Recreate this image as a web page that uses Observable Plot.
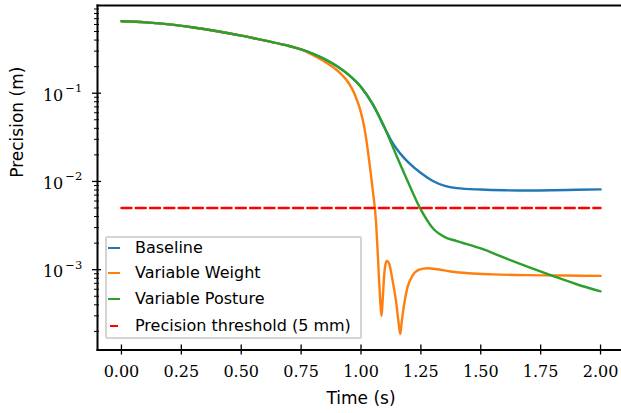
<!DOCTYPE html>
<html><head><meta charset="utf-8">
<script src="https://cdn.jsdelivr.net/npm/d3@7"></script>
<script src="https://cdn.jsdelivr.net/npm/@observablehq/plot@0.6"></script>
<style>
html,body{margin:0;padding:0;background:#fff;}
#wrap{position:relative;width:621px;height:413px;overflow:hidden;}
#legend{position:absolute;left:105px;top:236px;width:253px;height:99px;border:2px solid #d4d4d4;background:rgba(255,255,255,0.8);border-radius:2px;font-family:"DejaVu Sans",sans-serif;font-size:16px;color:#000;}
#legend .row{position:absolute;left:0;height:20px;line-height:20px;white-space:nowrap;}
#legend .sw{position:absolute;left:1px;top:9px;width:12px;height:0;}
#legend .lab{position:absolute;left:28px;top:0;}
</style>
</head><body>
<div id="wrap"></div>
<script>
// ---- data ----
const seriesNames = ["Baseline", "Variable Weight", "Variable Posture", "Precision threshold (5 mm)"];
const seriesColors = ["#1f77b4", "#ff7f0e", "#2ca02c", "#ff0000"];

const baselineT = [0,0.1,0.2,0.3,0.4,0.5,0.6,0.7,0.75,0.8,0.85,0.9,0.95,1.0,1.05,1.1,1.125,1.15,1.175,1.2,1.25,1.3,1.35,1.4,1.5,1.6,1.7,1.8,1.9,2.0];
const baselineV = [0.653,0.634,0.603,0.556,0.504,0.449,0.394,0.343,0.313,0.279,0.2415,0.2018,0.1603,0.1175,0.0741,0.0398,0.0295,0.0232,0.0191,0.0162,0.01245,0.01012,0.00891,0.00841,0.00809,0.00794,0.00789,0.00794,0.00804,0.00813];

const weightT = [0,0.1,0.2,0.3,0.4,0.5,0.6,0.7,0.75,0.8,0.85,0.9,0.925,0.95,0.975,1.0,1.0125,1.025,1.0375,1.05,1.0625,1.0694,1.0764,1.0833,1.0861,1.0903,1.0972,1.1028,1.1083,1.118,1.132,1.146,1.156,1.164,1.169,1.178,1.194,1.215,1.243,1.278,1.32,1.375,1.45,1.55,1.7,1.85,2.0];
const weightV = [0.653,0.634,0.603,0.556,0.504,0.449,0.394,0.343,0.313,0.269,0.2265,0.182,0.1567,0.1288,0.0955,0.0603,0.0427,0.0263,0.01445,0.00759,0.00355,0.00164,0.000687,0.000342,0.0003,0.000445,0.000893,0.00117,0.00126,0.00116,0.00075,0.000445,0.000263,0.000186,0.000242,0.000373,0.000631,0.000855,0.001,0.00104,0.00101,0.000955,0.000912,0.000885,0.000867,0.000859,0.000851];

const postureT = [0,0.1,0.2,0.3,0.4,0.5,0.6,0.7,0.75,0.8,0.85,0.9,0.95,1.0,1.05,1.1,1.15,1.2,1.25,1.3,1.35,1.4,1.5,1.6,1.7,1.8,1.9,2.0];
const postureV = [0.653,0.634,0.603,0.556,0.504,0.449,0.394,0.343,0.313,0.279,0.2415,0.2018,0.1603,0.1175,0.0741,0.0398,0.01905,0.00933,0.00479,0.00295,0.00234,0.00211,0.00174,0.00136,0.00107,0.000851,0.000684,0.000569];

const thresholdT = [0, 2];
const thresholdV = [0.005, 0.005];

const xTicks = [0, 0.25, 0.5, 0.75, 1.0, 1.25, 1.5, 1.75, 2.0];
const yMajor = [1e-3, 1e-2, 1e-1];
const yMinorMult = [2,3,4,5,6,7,8,9];
const yDecades = [1e-4, 1e-3, 1e-2, 1e-1];
const yMinor = yDecades.flatMap(d => yMinorMult.map(m => +(m*d).toPrecision(3)));

// ---- build tables ----
const toRows = (T, V) => T.map((t, i) => ({t, v: V[i]}));
const seriesData = [toRows(baselineT, baselineV), toRows(weightT, weightV), toRows(postureT, postureV), toRows(thresholdT, thresholdV)];

const lw = 2.4;
const chart = Plot.plot({
  width: 621, height: 413,
  marginLeft: 97, marginRight: -3, marginTop: 5, marginBottom: 63.5,
  style: {fontFamily: "'DejaVu Serif', serif", fontSize: "16px", color: "#000", background: "#fff", overflow: "visible"},
  x: {domain: [-0.1, 2.1]},
  y: {type: "log", domain: [1.23e-4, 0.986]},
  marks: [
    Plot.line(seriesData[0], {x: "t", y: "v", stroke: seriesColors[0], strokeWidth: lw, curve: "monotone-x"}),
    Plot.line(seriesData[1], {x: "t", y: "v", stroke: seriesColors[1], strokeWidth: lw, curve: "monotone-x"}),
    Plot.line(seriesData[2], {x: "t", y: "v", stroke: seriesColors[2], strokeWidth: lw, curve: "monotone-x"}),
    Plot.line(seriesData[3], {x: "t", y: "v", stroke: seriesColors[3], strokeWidth: lw, strokeDasharray: "10,4.3"}),
    Plot.axisX(xTicks, {tickSize: 5, tickPadding: 10.5, tickFormat: d => d.toFixed(2), label: null, strokeWidth: 1.3}),
    Plot.axisX(xTicks, {tickSize: -5, tickFormat: () => "", label: null, strokeWidth: 1.3}),
    Plot.axisY(yMajor, {tickSize: 5, tickPadding: 10.3, tickFormat: d => String(Math.round(Math.log10(d))), label: null, strokeWidth: 1.3}),
    Plot.axisY(yMajor, {tickSize: -4, tickFormat: () => "", label: null, strokeWidth: 1.3}),
    Plot.axisY(yMinor, {tickSize: 3, tickFormat: () => "", label: null, strokeWidth: 1}),
    Plot.axisY(yMinor, {tickSize: -2, tickFormat: () => "", label: null, strokeWidth: 1}),
    Plot.frame({anchor: "left", strokeWidth: 2}),
    Plot.frame({anchor: "bottom", strokeWidth: 2}),
    Plot.frame({anchor: "top", strokeWidth: 2}),
    Plot.text(["Time (s)"], {frameAnchor: "bottom", dy: 49, fontFamily: "DejaVu Sans", fontSize: 17, lineAnchor: "middle"}),
    Plot.text(["Precision (m)"], {frameAnchor: "left", dx: -80, rotate: -90, fontFamily: "DejaVu Sans", fontSize: 17, lineAnchor: "middle"})
  ]
});
document.getElementById("wrap").appendChild(chart);

// superscript exponents on y tick labels (10^-n)
d3.select(chart).selectAll('g[aria-label="y-axis tick label"] text').each(function() {
  const txt = this.textContent.trim();
  if (!txt) return;
  const exp = txt.replace("-", "\u2212");
  const sel = d3.select(this);
  sel.text("");
  sel.append("tspan").attr("dy", 2.2).text("10");
  sel.append("tspan").attr("dx", 2).attr("dy", -8.3).attr("font-size", "11.5px").text(exp);
});

// legend
const leg = document.createElement("div");
leg.id = "legend";
const rowTops = [0, 25, 51, 77.5];
seriesNames.forEach((name, i) => {
  const row = document.createElement("div");
  row.className = "row";
  row.style.top = rowTops[i] + "px";
  const sw = document.createElement("span");
  sw.className = "sw";
  if (i === 3) { sw.style.left = "3px"; sw.style.width = "8px"; }
  sw.style.borderTop = `${lw}px solid ${seriesColors[i]}`;
  const lab = document.createElement("span");
  lab.className = "lab";
  lab.textContent = name;
  row.appendChild(sw); row.appendChild(lab);
  leg.appendChild(row);
});
document.getElementById("wrap").appendChild(leg);
</script>
</body></html>
